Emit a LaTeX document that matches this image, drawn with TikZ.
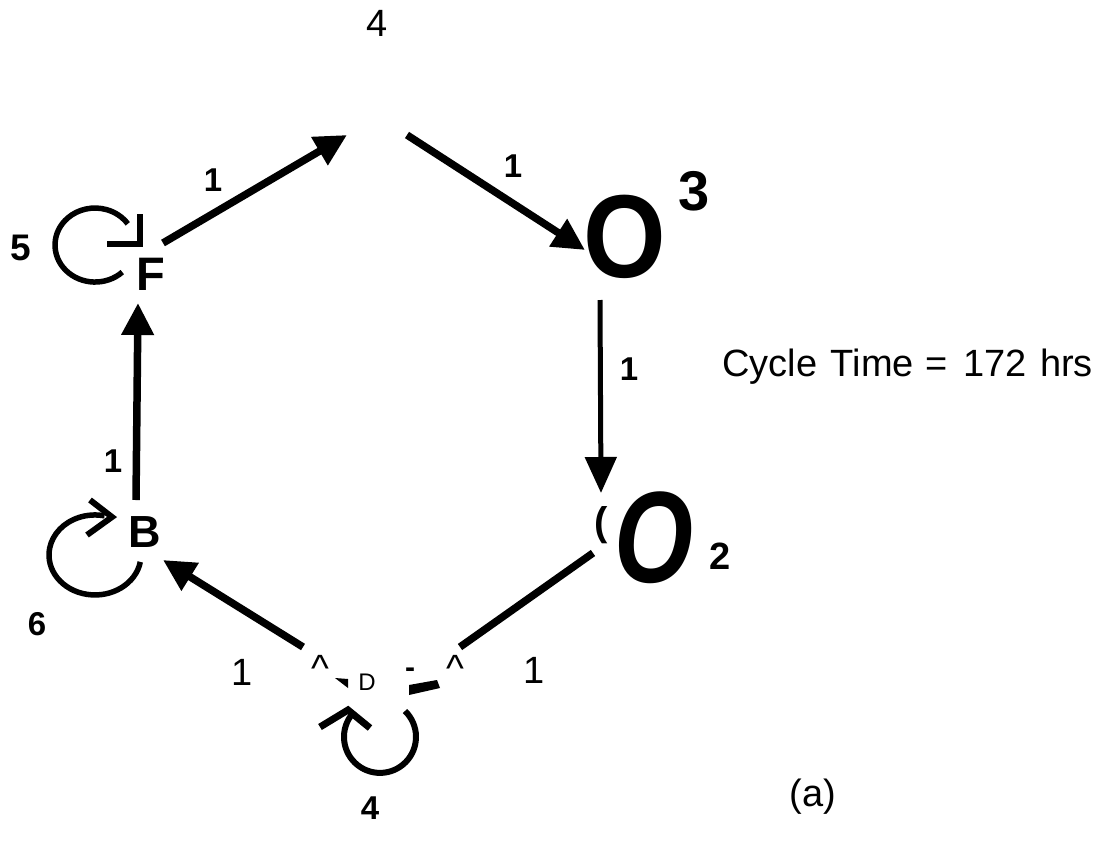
\documentclass[tikz,border=0pt]{standalone}
\usepackage{fontspec}
\setmainfont{Liberation Sans}
\usetikzlibrary{arrows.meta}
\tikzset{
  edge/.style={line width=7.5pt, -{Triangle[length=32pt,width=31pt]}},
  thinedge/.style={line width=5pt, -{Triangle[length=36pt,width=31pt]}},
  plainedge/.style={line width=7.5pt},
  selfloop/.style={line width=5.5pt},
  chevron/.style={line width=6pt, line join=miter},
  lbl/.style={inner sep=0pt, font=\fontsize{33}{33}\selectfont\bfseries},
  txt/.style={inner sep=0pt, font=\fontsize{38}{38}\selectfont},
  letter/.style={inner sep=0pt, font=\fontsize{47}{47}\selectfont\bfseries},
}
\begin{document}
\begin{tikzpicture}[x=1pt,y=-1pt]
\useasboundingbox (0,0) rectangle (1117,846);

% graph nodes
\node[letter] (nF) at (151,274) {F};
\node[letter,font=\fontsize{45}{45}\selectfont\bfseries] (nB) at (145,532) {B};
\node[inner sep=0pt,font=\fontsize{24}{24}\selectfont] (nD) at (367,682) {D};
\node[inner sep=0pt,anchor=base,font=\fontsize{118}{118}\selectfont\bfseries] (nO3) at (625,277) {\scalebox{0.9}[1]{O}};
\node[inner sep=0pt,anchor=base,font=\fontsize{56}{56}\selectfont\bfseries] (n3) at (694,210) {3};
\node[inner sep=0pt,anchor=base,font=\fontsize{130}{130}\selectfont\bfseries\itshape] (nO2) at (654,582) {\scalebox{0.78}[1]{O}};
\node[inner sep=0pt,font=\fontsize{38}{38}\selectfont\bfseries] (n2) at (720,556) {2};
\node[inner sep=0pt,font=\fontsize{40}{40}\selectfont\bfseries] (nparen) at (601,525) {(};
\coordinate (nTop) at (378,138);

% connector end points
\coordinate (fOut) at (163,243);
\coordinate (tIn) at (347,135);
\coordinate (tOut) at (407,135);
\coordinate (o3In) at (585,250);
\coordinate (o3Out) at (600,300);
\coordinate (o2In) at (601,493);
\coordinate (o2Out) at (593,553);
\coordinate (dIn) at (460,647);
\coordinate (dOut) at (303,647);
\coordinate (bIn) at (163,560);
\coordinate (bOut) at (136,500);
\coordinate (fIn) at (138,303);

% connectors
\draw[edge] (fOut) -- (tIn);
\draw[edge] (tOut) -- (o3In);
\draw[thinedge] (o3Out) -- (o2In);
\draw[plainedge] (o2Out) -- (dIn);
\draw[edge] (dOut) -- (bIn);
\draw[edge] (bOut) -- (fIn);

% self loops
\coordinate (lF) at (122.3,272.1);
\coordinate (lB) at (140.3,561.9);
\coordinate (lD) at (405,711);
\coordinate (tipF) at (140,244);
\coordinate (tipB) at (112,517);
\coordinate (tipD) at (348,710);
\draw[selfloop] (lF) arc[start angle=47,end angle=325,x radius=40,y radius=37];
\draw[chevron] (140,214) -- (tipF) -- (107,244);
\draw[selfloop] (lB) arc[start angle=10,end angle=282,x radius=46,y radius=40];
\draw[chevron] (90,500) -- (tipB) -- (87,535);
\draw[selfloop,line width=6pt] (lD) arc[start angle=-46,end angle=220,radius=36];
\draw[chevron,line width=7pt] (320,727) -- (tipD) -- (370,728);

% broken arrow fragments near D
\fill (335,678) -- (348,679) -- (348,688) -- cycle;
\fill (409,685) -- (437,680) -- (440,688) -- (409,695) -- cycle;

% labels
\node[txt] (t4) at (377,23) {4};
\node[lbl] (l1a) at (213,180) {1};
\node[lbl] (l1b) at (513,166) {1};
\node[lbl] (l1c) at (629,369) {1};
\node[lbl] (l1d) at (113,461) {1};
\node[lbl,font=\fontsize{37}{37}\selectfont\bfseries] (l5) at (21,248) {5};
\node[lbl] (l6) at (37,624) {6};
\node[lbl] (l4) at (370,808) {4};
\node[txt] (r1a) at (242,672) {1};
\node[txt] (r1b) at (534,670) {1};
\node[txt] (c1) at (320,668) {\textasciicircum};
\node[txt] (c2) at (455,668) {\textasciicircum};
\node[inner sep=0pt,font=\fontsize{30}{30}\selectfont\bfseries] (dash) at (410,673) {-};
\node[txt,anchor=base west,font=\fontsize{38}{38}\selectfont] (cyc) at (722,376) {Cycle\hspace{3pt} Time\hspace{1pt} =\hspace{5pt} 172\hspace{3pt} hrs};
\node[txt] (a) at (813,797) {(a)};
\end{tikzpicture}
\end{document}
